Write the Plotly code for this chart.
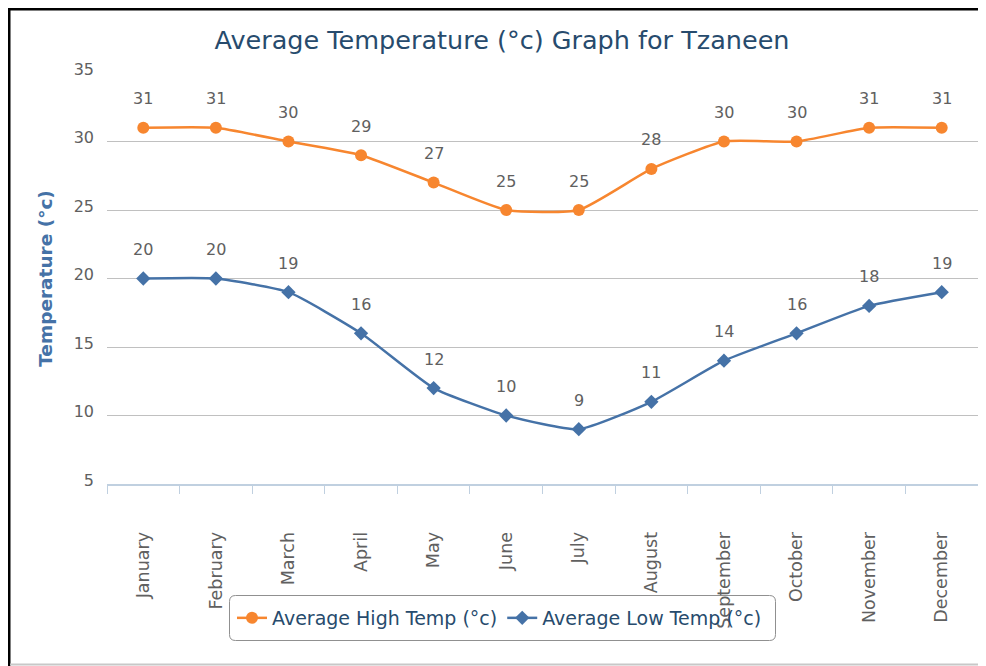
import plotly.graph_objects as go

months = ["January", "February", "March", "April", "May", "June", "July",
          "August", "September", "October", "November", "December"]
high_temp = [31, 31, 30, 29, 27, 25, 25, 28, 30, 30, 31, 31]
low_temp = [20, 20, 19, 16, 12, 10, 9, 11, 14, 16, 18, 19]

high_name = "Average High Temp (°c)"
low_name = "Average Low Temp (°c)"
title_text = "Average Temperature (°c) Graph for Tzaneen"
y_title = "Temperature (°c)"

ORANGE = "#F7862F"
BLUE = "#4572A7"
FONT = "DejaVu Sans"

fig = go.Figure()
fig.add_trace(go.Scatter(
    x=months, y=high_temp, name=high_name, mode="lines+markers",
    line=dict(color=ORANGE, width=2.5, shape="spline", smoothing=0.5),
    marker=dict(symbol="circle", size=12, color=ORANGE),
))
fig.add_trace(go.Scatter(
    x=months, y=low_temp, name=low_name, mode="lines+markers",
    line=dict(color=BLUE, width=2.5, shape="spline", smoothing=0.5),
    marker=dict(symbol="diamond", size=11, color=BLUE),
))

annotations = []
for series in (high_temp, low_temp):
    for m, v in zip(months, series):
        annotations.append(dict(
            x=m, y=v, xref="x", yref="y", text=str(v), showarrow=False,
            yshift=29, font=dict(family=FONT, size=16, color="#606060"),
        ))

# page body has an 8px margin, so canvas = screen - 8
W, H = 970, 658
L, R, T, B = 99, 0, 65, 182
pw, ph = W - L - R, H - T - B


def px_x(x):
    return (x - L) / pw


def px_y(y):
    return 1 - (y - T) / ph


def rounded_rect(x0, y0, x1, y1, r):
    X0, X1 = px_x(x0), px_x(x1)
    Y0, Y1 = px_y(y0), px_y(y1)
    rx, ry = r / pw, r / ph
    return (f"M {X0 + rx},{Y0} L {X1 - rx},{Y0} Q {X1},{Y0} {X1},{Y0 - ry} "
            f"L {X1},{Y1 + ry} Q {X1},{Y1} {X1 - rx},{Y1} "
            f"L {X0 + rx},{Y1} Q {X0},{Y1} {X0},{Y1 + ry} "
            f"L {X0},{Y0 - ry} Q {X0},{Y0} {X0 + rx},{Y0} Z")


shapes = [
    dict(type="line", xref="paper", yref="paper",
         x0=px_x(0), x1=px_x(W), y0=px_y(1), y1=px_y(1),
         line=dict(color="black", width=3)),
    dict(type="line", xref="paper", yref="paper",
         x0=px_x(1), x1=px_x(1), y0=px_y(0), y1=px_y(H),
         line=dict(color="black", width=3)),
    dict(type="line", xref="paper", yref="paper",
         x0=px_x(2), x1=px_x(W), y0=px_y(656.5), y1=px_y(656.5),
         line=dict(color="#C8C8C8", width=2)),
    dict(type="path", xref="paper", yref="paper", layer="below",
         path=rounded_rect(221.5, 587.5, 767.5, 632.5, 6),
         line=dict(color="#909090", width=1), fillcolor="white"),
]

fig.update_layout(
    width=W, height=H,
    margin=dict(l=L, r=R, t=T, b=B, autoexpand=False),
    paper_bgcolor="white", plot_bgcolor="rgba(0,0,0,0)",
    font=dict(family=FONT, color="#606060"),
    title=dict(text=title_text, x=(502 - 8) / W, xanchor="center",
               y=1 - 32 / H, yanchor="middle",
               font=dict(family=FONT, size=25.5, color="#274B6D")),
    showlegend=True,
    legend=dict(orientation="h", x=px_x(224), y=px_y(610), xanchor="left", yanchor="middle",
                borderwidth=0, bgcolor="rgba(0,0,0,0)",
                font=dict(family=FONT, size=19, color="#274B6D"),
                tracegroupgap=0),
    annotations=annotations,
    shapes=shapes,
    xaxis=dict(
        type="category", range=[-0.5, 11.5], tickson="boundaries",
        showgrid=False, showline=True, linecolor="#C0D0E0", linewidth=2,
        ticks="outside", ticklen=8, tickcolor="#C0D0E0", tickwidth=1,
        tickangle=-90, ticklabelstandoff=39,
        tickfont=dict(family=FONT, size=17.5, color="#606060"),
        zeroline=False,
    ),
    yaxis=dict(
        range=[5, 35], tickmode="array", tickvals=[5, 10, 15, 20, 25, 30, 35],
        showgrid=True, gridcolor="#C0C0C0", gridwidth=1,
        showline=False, zeroline=False, ticks="", ticklabelstandoff=12,
        ticklabelshift=-4,
        tickfont=dict(family=FONT, size=16, color="#606060"),
        title=dict(text="<b>" + y_title + "</b>", standoff=16,
                   font=dict(family=FONT, size=18.5, color=BLUE)),
    ),
)

fig.write_html("out.html")
